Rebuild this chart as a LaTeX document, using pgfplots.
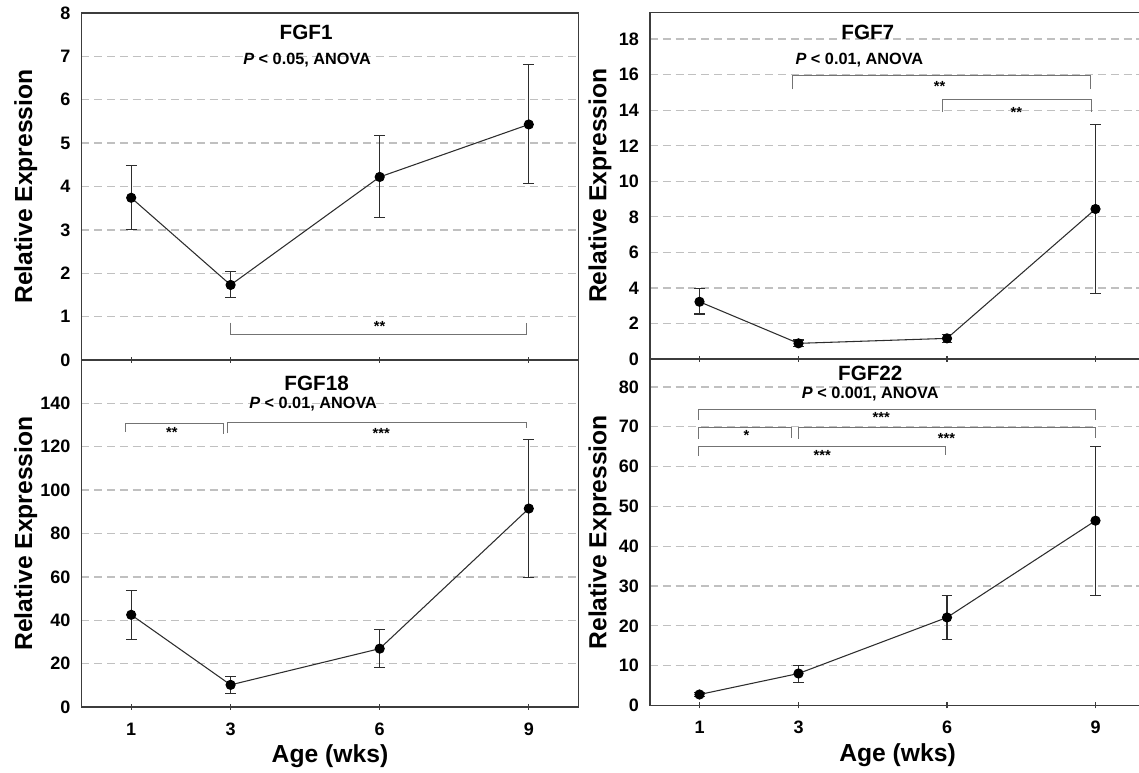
\documentclass[border=0pt]{standalone}
\usepackage{fontspec}
\setmainfont{Liberation Sans}
\usepackage{pgfplots}
\pgfplotsset{compat=1.18}
\definecolor{axisgray}{RGB}{60,60,60}
\definecolor{gridgray}{RGB}{192,192,192}
\definecolor{brk}{RGB}{115,115,115}
\definecolor{linegray}{RGB}{45,45,45}
\pgfplotsset{
  panel/.style={
    scale only axis, anchor=south west,
    xmin=0, xmax=10, xtick={1,3,6,9},
    xtick pos=bottom, ytick pos=left,
    axis line style={axisgray, line width=1.2pt},
    major tick length=4.5pt, tick align=center,
    xtick style={axisgray, line width=0.9pt},
    ytick style={draw=none},
    ymajorgrids,
    grid style={gridgray, line width=1pt, dash pattern=on 6pt off 3.6pt},
    tick label style={font=\fontsize{13.5}{15}\selectfont\bfseries},
    /pgf/number format/assume math mode=true,
    yticklabel style={xshift=-2.6pt},
    xticklabel style={yshift=-6pt},
    ylabel={Relative Expression},
    ylabel style={font=\fontsize{18.5}{21}\selectfont\bfseries, anchor=center},
    xlabel style={font=\fontsize{18.5}{21}\selectfont\bfseries, anchor=center, at={(axis description cs:0.5,-0.142)}},
    clip=false,
  },
  leftpanel/.style={panel, width=372.75pt, height=260.25pt,
    ylabel style={at={(axis description cs:-0.112,0.5)}}},
  rightpanel/.style={panel, width=371.25pt, height=259.9pt,
    ylabel style={at={(axis description cs:-0.101,0.5)}}},
  dataline/.style={linegray, line width=0.8pt, mark=*, mark size=3.4pt,
    mark options={fill=black, draw=black, solid},
    error bars/.cd, y dir=both, y explicit,
    error bar style={line width=0.8pt, linegray},
    error mark options={rotate=90, mark size=4pt, line width=0.8pt, linegray}},
  bracket/.style={brk, line width=0.7pt, mark=none},
}
\newcommand{\ttl}{\fontsize{15.5}{18}\selectfont\bfseries}
\newcommand{\ptx}{\fontsize{12.2}{14}\selectfont\bfseries}
\newcommand{\stx}{\fontsize{11}{13}\selectfont\bfseries}
\begin{document}
\begin{tikzpicture}
\useasboundingbox (0,0) rectangle (854.25pt,579.75pt);
% ---------------- FGF1 (top left)
\begin{axis}[leftpanel, at={(61.125pt,309.75pt)}, ymin=0, ymax=8, ytick={0,1,...,8}, xticklabels={}]
\addplot[dataline] table[x=x, y=y, y error plus=ep, y error minus=em] {
x y ep em
1 3.74 0.75 0.73
3 1.73 0.32 0.30
6 4.22 0.95 0.94
9 5.43 1.38 1.37
};
\addplot[bracket] coordinates {(3,0.86) (3,0.59) (8.96,0.59) (8.96,0.86)};
\node[font=\stx] at (axis cs:6,0.78) {**};
\node[font=\ttl] at (axis cs:4.52,7.55) {FGF1};
\node[font=\ptx] at (axis cs:4.54,6.92) {\textit{P} < 0.05, ANOVA};
\end{axis}
% ---------------- FGF18 (bottom left)
\begin{axis}[leftpanel, at={(61.125pt,49.5pt)}, ymin=0, ymax=160, ytick={0,20,...,140}, xlabel={Age (wks)}]
\addplot[dataline] table[x=x, y=y, y error plus=ep, y error minus=em] {
x y ep em
1 42.5 11.1 11.2
3 10.2 3.7 3.8
6 26.9 9.0 8.6
9 91.5 31.8 31.7
};
\addplot[bracket] coordinates {(0.89,127) (0.89,130.7) (2.85,130.7) (2.85,126)};
\addplot[bracket] coordinates {(2.93,126.2) (2.93,131.1) (8.96,131.1) (8.96,128.5)};
\node[font=\stx] at (axis cs:1.82,126.7) {**};
\node[font=\stx] at (axis cs:6.03,126.2) {***};
\node[font=\ttl] at (axis cs:4.73,149) {FGF18};
\node[font=\ptx] at (axis cs:4.66,139.8) {\textit{P} < 0.01, ANOVA};
\end{axis}
% ---------------- FGF7 (top right)
\begin{axis}[rightpanel, at={(487.5pt,310.5pt)}, ymin=0, ymax=19.5, ytick={0,2,...,18}, xticklabels={}]
\addplot[dataline] table[x=x, y=y, y error plus=ep, y error minus=em] {
x y ep em
1 3.22 0.74 0.69
3 0.88 0.19 0.19
6 1.16 0.23 0.22
9 8.44 4.76 4.76
};
\addplot[bracket] coordinates {(2.87,15.17) (2.87,15.96) (8.9,15.96) (8.9,15.17)};
\addplot[bracket] coordinates {(5.9,13.9) (5.9,14.63) (8.92,14.63) (8.92,13.9)};
\node[font=\stx] at (axis cs:5.85,15.34) {**};
\node[font=\stx] at (axis cs:7.4,13.89) {**};
\node[font=\ttl] at (axis cs:4.4,18.4) {FGF7};
\node[font=\ptx] at (axis cs:4.23,16.8) {\textit{P} < 0.01, ANOVA};
\end{axis}
% ---------------- FGF22 (bottom right)
\begin{axis}[rightpanel, at={(487.5pt,50.625pt)}, ymin=0, ymax=87, ytick={0,10,...,80}, xlabel={Age (wks)}]
\addplot[dataline] table[x=x, y=y, y error plus=ep, y error minus=em] {
x y ep em
1 2.76 0.5 0.5
3 8.03 2.1 2.2
6 22.1 5.6 5.5
9 46.4 18.7 18.7
};
\addplot[bracket] coordinates {(0.97,71.8) (0.97,74.4) (9.0,74.4) (9.0,71.8)};
\addplot[bracket] coordinates {(0.97,67) (0.97,69.9) (2.85,69.9) (2.85,67.2)};
\addplot[bracket] coordinates {(3.0,67) (3.0,69.9) (9.0,69.9) (9.0,67.2)};
\addplot[bracket] coordinates {(0.97,62.7) (0.97,65.1) (5.97,65.1) (5.97,62.9)};
\node[font=\stx] at (axis cs:4.67,72.2) {***};
\node[font=\stx] at (axis cs:1.95,67.7) {*};
\node[font=\stx] at (axis cs:5.99,67.1) {***};
\node[font=\stx] at (axis cs:3.48,62.9) {***};
\node[font=\ttl] at (axis cs:4.45,83.3) {FGF22};
\node[font=\ptx] at (axis cs:4.45,78.2) {\textit{P} < 0.001, ANOVA};
\end{axis}
\end{tikzpicture}
\end{document}
